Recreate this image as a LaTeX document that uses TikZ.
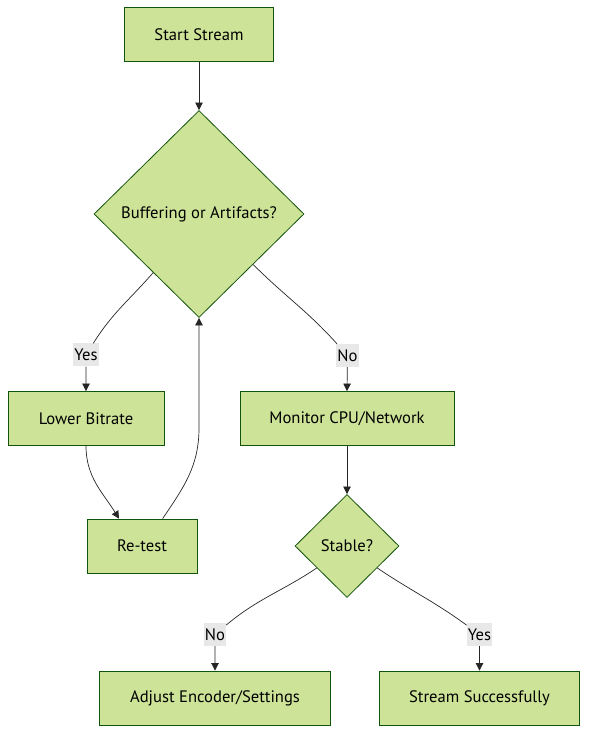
\documentclass[tikz,border=0pt]{standalone}
\usepackage{fontspec}
\setmainfont{PT Sans}
\usetikzlibrary{shapes.geometric,arrows.meta,calc}
\definecolor{boxfill}{HTML}{CDE498}
\definecolor{boxline}{HTML}{13540C}
\definecolor{lblfill}{HTML}{E8E8E8}
\begin{document}
\begin{tikzpicture}[x=1pt, y=1pt, font=\fontsize{16.6}{19}\selectfont,
    procbox/.style={draw=boxline, fill=boxfill, line width=0.8pt, minimum height=54pt, inner sep=0pt},
    choice/.style={diamond, draw=boxline, fill=boxfill, line width=0.8pt, inner sep=0pt},
    flow/.style={-{Triangle[length=7.5pt,width=7.5pt]}, line width=0.7pt, black!85},
    lbl/.style={fill=lblfill, inner xsep=1pt, inner ysep=0pt, minimum height=23pt}]
  \useasboundingbox (0,0) rectangle (595,742);
  % boxes and choices
  \node[procbox, minimum width=149pt] (start) at (199,707.5) {Start Stream};
  \node[choice, minimum width=210pt, minimum height=207pt] (dec) at (199,528) {Buffering or Artifacts?};
  \node[procbox, minimum width=156pt] (lower) at (86,323.5) {Lower Bitrate};
  \node[procbox, minimum width=110pt] (retest) at (142,196) {Re-test};
  \node[procbox, minimum width=214pt] (mon) at (347,323.5) {Monitor CPU/Network};
  \node[choice, minimum width=104pt, minimum height=103pt] (stable) at (347,196) {Stable?};
  \node[procbox, minimum width=231pt] (adjust) at (215,44) {Adjust Encoder/Settings};
  \node[procbox, minimum width=200pt] (success) at (479.5,44) {Stream Successfully};
  % edge labels
  \node[lbl] (yesa) at (86,387) {Yes};
  \node[lbl] (noa) at (347.5,386.5) {No};
  \node[lbl] (nob) at (215,107.5) {No};
  \node[lbl] (yesb) at (479.5,107.5) {Yes};
  \coordinate (loop) at ($(dec.south)+(0,-110)$);
  % connectors
  \draw[flow] (start) -- (dec);
  \draw[flow] (dec.-128) to[out=-131, in=58] (yesa) -- (lower.north);
  \draw[flow] (dec.-43) to[out=-45, in=132] (noa) -- (mon.north);
  \draw[flow] (lower.south) to[out=-90, in=122] (retest.130);
  \draw[flow] (retest.53) to[out=56, in=-90] (loop) -- (dec.south);
  \draw[flow] (mon) -- (stable);
  \draw[flow] (stable.-144) to[out=-146, in=40] (nob) -- (adjust.north);
  \draw[flow] (stable.-36) to[out=-34, in=144] (yesb) -- (success.north);
\end{tikzpicture}
\end{document}
